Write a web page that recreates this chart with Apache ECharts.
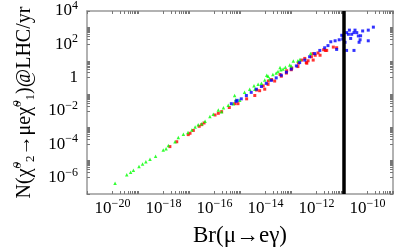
<!DOCTYPE html>
<html>
<head>
<meta charset="utf-8">
<script src="https://cdn.jsdelivr.net/npm/echarts@6/dist/echarts.min.js"></script>
<style>html,body{margin:0;padding:0;background:#fff}#c{width:407px;height:252px}</style>
</head>
<body>
<div id="c"></div>
<script>
// values stored as log10 exponents
const xTickLabels = [-20, -18, -16, -14, -12, -10];
const yTickLabels = [-6, -4, -2, 0, 2, 4];
const megBound = 1.2e-11;

const greenLogBr = [-19.90,-19.44,-19.29,-19.18,-18.96,-18.82,-18.69,-18.53,-18.31,-18.01,-17.90,-17.81,-17.55,-17.42,-17.22,-17.04,-16.89,-16.76,-16.64,-16.50,-16.37,-16.18,-16.05,-15.85,-15.72,-15.65,-15.46,-15.26,-15.21,-15.17,-15.01,-14.82,-14.62,-14.45,-14.42,-14.29,-14.16,-14.03,-13.95,-13.90,-13.84,-13.71,-13.58,-13.51,-13.43,-13.40,-13.31,-13.22,-13.05,-12.99,-12.91,-12.73,-12.65,-12.23];
const greenLogN  = [-6.36,-5.84,-5.70,-5.57,-5.35,-5.20,-5.06,-4.91,-4.73,-4.36,-4.28,-4.09,-3.86,-3.61,-3.41,-3.30,-3.15,-2.97,-2.83,-2.78,-2.62,-2.34,-2.21,-1.95,-2.05,-1.82,-1.66,-1.57,-1.08,-1.34,-1.37,-0.89,-0.70,-0.50,-0.70,-0.41,-0.35,-0.15,0.14,0.08,-0.07,0.18,0.27,0.37,0.61,0.47,0.51,0.62,0.76,0.70,0.99,1.01,1.09,1.44];

const redLogBr = [-17.75,-17.48,-17.03,-16.96,-16.83,-16.60,-16.50,-16.41,-15.98,-15.85,-15.72,-15.42,-15.20,-15.08,-14.74,-14.42,-14.35,-14.23,-14.09,-14.03,-13.90,-13.89,-13.76,-13.64,-13.43,-13.38,-13.18,-13.17,-12.99,-12.97,-12.73,-12.71,-12.58,-12.46,-12.40,-12.38,-12.33,-12.20,-12.14,-12.13,-12.05,-11.94,-11.86,-11.72,-11.65,-11.60,-11.34,-11.21];
const redLogN  = [-4.15,-3.86,-3.43,-3.35,-3.18,-2.93,-2.83,-2.73,-2.25,-2.15,-2.05,-1.80,-1.57,-1.57,-1.28,-1.08,-0.75,-0.79,-0.50,-0.70,-0.41,-0.21,-0.12,-0.21,0.18,0.08,0.27,0.41,0.47,0.57,0.66,0.86,1.05,1.15,0.90,0.86,1.01,1.25,1.44,1.05,1.34,1.48,1.34,1.67,1.63,1.63,1.83,1.79];

const blueLogBr = [-15.34,-15.15,-15.11,-14.95,-14.75,-14.56,-14.36,-14.16,-13.97,-13.77,-13.58,-13.38,-13.18,-12.99,-12.79,-12.66,-12.46,-12.27,-12.07,-11.87,-11.68,-11.55,-11.44,-11.27,-11.21,-11.11,-11.01,-10.97,-10.95,-10.88,-10.82,-10.82,-10.75,-10.71,-10.66,-10.62,-10.53,-10.53,-10.49,-10.42,-10.36,-10.33,-10.29,-10.27,-10.19,-9.97,-9.97,-9.77];
const blueLogN  = [-1.57,-1.43,-1.37,-1.28,-1.08,-0.89,-0.70,-0.54,-0.35,-0.17,-0.02,0.14,0.32,0.51,0.70,0.90,1.05,1.25,1.44,1.63,1.79,1.92,2.15,2.21,1.69,2.27,2.54,2.31,2.50,2.12,2.70,1.63,2.60,2.85,2.35,2.60,2.70,1.63,2.85,2.70,2.50,2.12,2.27,2.51,2.80,2.21,2.85,3.03];

function pairs(a, b) { return a.map((v, i) => [v, b[i]]); }

// tick positions: every decade plus k*10^n minor ticks after each labelled decade
function ticks(lo, hi, labelled) {
  const t = [];
  for (let n = lo; n <= hi; n++) t.push(n);
  labelled.forEach(n => { for (let k = 2; k <= 9; k++) { const v = n + Math.log10(k); if (v < hi) t.push(v); } });
  return t;
}
const xTicks = ticks(-21, -9, xTickLabels);
const yTicks = ticks(-7, 4, yTickLabels);

const SERIF = 'Liberation Serif';
const axisGray = '#999';
const rich = {
  b: { fontFamily: SERIF, fontSize: 17, lineHeight: 22, color: '#000' },
  s: { fontFamily: SERIF, fontSize: 12, lineHeight: 12, verticalAlign: 'top', color: '#000' }
};
function fmt(v) {
  const n = Math.round(v);
  if (n === 0) return '{b|1}';
  return '{b|10}{s|' + String(n).replace('-', '\u2212') + '}';
}

function xAx(pos, show) {
  return {
    type: 'value', min: -21, max: -9, position: pos,
    axisLine: { show: true, onZero: false, lineStyle: { color: axisGray, width: 1.5 } },
    axisTick: { show: true, inside: true, length: 3, customValues: xTicks, lineStyle: { color: '#777', width: 1 } },
    axisLabel: { show: show, customValues: xTickLabels, formatter: fmt, rich: rich, margin: 4 },
    splitLine: { show: false },
    name: show ? 'Br(\u03bc\u2192e\u03b3)' : '', nameLocation: 'middle', nameGap: 30,
    nameTextStyle: { fontFamily: SERIF, fontSize: 23, color: '#000' }
  };
}
function yAx(pos, show) {
  return {
    type: 'value', min: -7, max: 4, position: pos,
    axisLine: { show: true, onZero: false, lineStyle: { color: axisGray, width: 1.5 } },
    axisTick: { show: true, inside: true, length: 3, customValues: yTicks, lineStyle: { color: '#777', width: 1 } },
    axisLabel: { show: show, customValues: yTickLabels, formatter: fmt, rich: rich, margin: 9 },
    splitLine: { show: false },
    name: show ? '{t|N(\u03c7\u0303}{sp|0}{sb|2}{t|\u2192\u03bce\u03c7\u0303}{sp|0}{sb|1}{t|)@LHC/yr}' : '',
    nameLocation: 'middle', nameRotate: 90, nameGap: 45,
    nameTextStyle: {
      rich: {
        t: { fontFamily: SERIF, fontSize: 20, lineHeight: 26, color: '#000' },
        sp: { fontFamily: SERIF, fontSize: 13, fontStyle: 'italic', lineHeight: 14, verticalAlign: 'top', color: '#000' },
        sb: { fontFamily: SERIF, fontSize: 13, lineHeight: 14, verticalAlign: 'bottom', color: '#000' }
      }
    }
  };
}

const chart = echarts.init(document.getElementById('c'), null, { renderer: 'canvas' });
chart.setOption({
  animation: false,
  backgroundColor: '#fff',
  grid: { left: 87, right: 14, top: 11, bottom: 52, containLabel: false },
  xAxis: [xAx('bottom', true), xAx('top', false)],
  yAxis: [yAx('left', true), yAx('right', false)],
  series: [
    { type: 'scatter', data: pairs(redLogBr, redLogN), symbol: 'rect', symbolSize: 3, itemStyle: { color: '#ff0000' } },
    { type: 'scatter', data: pairs(greenLogBr, greenLogN), symbol: 'triangle', symbolSize: 3.5, itemStyle: { color: '#00ff00' } },
    { type: 'scatter', data: pairs(blueLogBr, blueLogN), symbol: 'rect', symbolSize: 3, itemStyle: { color: '#0000ff' },
      markLine: { silent: true, symbol: 'none', label: { show: false },
        lineStyle: { color: '#000', width: 3.5, type: 'solid' },
        data: [{ xAxis: Math.log10(megBound) }] } }
  ]
});
</script>
</body>
</html>
